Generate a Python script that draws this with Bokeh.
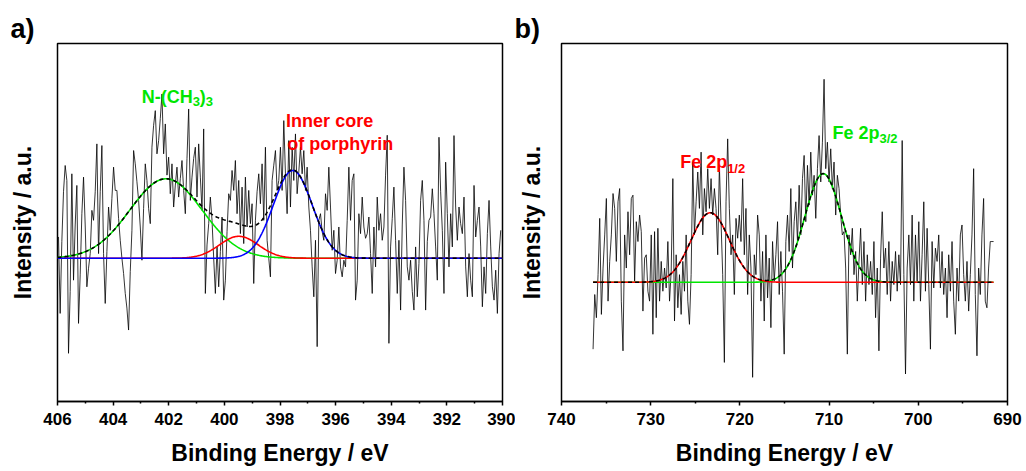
import numpy as np
from bokeh.plotting import figure
from bokeh.models import Range1d, FixedTicker, Label
from bokeh.layouts import row
from bokeh.embed import file_html
from bokeh.resources import INLINE

# ---------------- Panel a) N 1s ----------------
a_energy_first = 405.964   # eV, first sample
a_energy_last = 390.064    # eV, last sample
a_intensity = [
    64, -166, 50, 200, 279, 234, -286, -100, 254, -66,
    100, 219, -196, -50, 134, 244, 100, -86, -30, 14,
    144, 114, 200, 344, 14, 200, 339, 14, -136, 20,
    154, 84, 180, 274, 204, 204, 120, 54, 0, -46,
    -106, -150, -216, -40, 84, 324, 284, 230, 174, 94,
    -6, 150, 284, 234, 150, 104, 334, 400, 444, 314,
    354, 420, 494, 314, 404, 250, 304, 194, 284, 154,
    220, 274, 184, 240, 294, 204, 134, 300, 449, 174,
    244, 300, 334, 184, 344, 244, 144, 389, -106, 40,
    104, 184, 114, 0, -106, 34, -86, 20, 124, -126,
    -66, 80, 194, 174, 264, 204, 294, 134, 234, 74,
    214, 44, 244, 94, 204, 104, 164, -76, 114, 200,
    254, 164, 284, 114, 334, 54, 0, -56, 234, 280,
    324, 204, 234, 334, 204, 414, 254, 134, 354, 154,
    334, 234, 374, 194, 260, 334, 254, 324, 204, 274,
    154, 84, -26, -116, 54, -266, 114, 134, 80, 54,
    194, 144, 274, 154, 24, 84, -46, -6, 94, -26,
    -56, -6, -26, 114, 274, 114, 234, 254, -126, -66,
    134, 74, 184, 94, 60, 74, 124, 14, -106, 94,
    -26, 184, 84, 134, 54, 94, 250, 370, -256, 34,
    120, 214, 54, -106, 54, -156, 100, 274, 174, -26,
    -66, -6, -100, -156, 34, -116, -16, 174, 234, 114,
    -156, 50, 114, 124, 209, 134, 34, -66, 364, 200,
    84, -106, 289, 134, -26, 134, 34, 369, 154, 54,
    154, 104, 74, 184, -26, -116, 14, -66, -116, 219,
    64, 114, 154, 34, -146, -26, -106, 74, 174, 34,
    -86, -126, -36, -166, 14, 84,
]
# fitted components (green, red, blue)
a_peak_centers = [402.10, 399.48, 397.54]
a_peak_heights = [239, 66, 264]
a_peak_sigmas = [1.30, 0.70, 0.70]
a_xrange = [406, 390]
a_yrange = [-431, 646]
a_major_ticks = [406, 404, 402, 400, 398, 396, 394, 392, 390]
a_minor_ticks = [405, 403, 401, 399, 397, 395, 393, 391]

# ---------------- Panel b) Fe 2p ----------------
b_energy_first = 736.46
b_energy_last = 691.56
b_intensity = [
    -202, -37, -107, 23, 193, -97, 43, 143, 253, -57,
    63, 143, 268, 223, 63, 243, 283, -57, -207, 143,
    43, 213, 83, 253, 263, 3, 183, 123, 203, 153,
    -87, 73, 83, -27, -57, 143, -157, 153, -107, 163,
    -57, 63, -27, 43, -17, 123, -57, 33, 313, -117,
    83, -77, 23, -97, 63, -27, 143, -57, -127, 23,
    363, 143, 243, 333, 223, 393, 143, 283, 213, 343,
    223, 313, 203, 283, 223, 83, 353, 183, 23, -242,
    243, 433, 223, 83, 143, -37, 193, 133, 203, 123,
    313, 83, 223, -37, 143, 43, -287, 83, 23, 203,
    143, -57, 93, -117, 143, -47, 73, -137, 123, 3,
    83, 183, -37, 93, -27, -217, 123, 203, 93, 283,
    43, 183, 243, 123, 293, 143, 313, 383, 183, 353,
    233, 393, 263, 323, 193, 343, 443, 303, 423, 613,
    343, 423, 303, 403, 283, 363, 203, 323, 283, 203,
    143, 153, 43, -217, 143, 83, 163, 23, 93, -57,
    63, 163, -7, 123, -57, 83, -7, 63, -37, 123,
    -107, 43, -207, 73, 213, 43, 103, -37, 123, -57,
    63, -7, 93, -27, 83, -7, 428, 23, -277, 43,
    143, -7, 203, -57, 143, 3, 183, -57, 83, 243,
    -27, 163, -7, -202, 123, -17, 103, 63, 143, -17,
    93, -37, 43, -107, 83, -27, 123, -57, -157, 43,
    -57, 143, 173, 23, -57, 63, -87, 23, 143, 343,
    -37, -222, 43, -37, 143, 253, -57, -77, 43, 123,
    123, 123,
]
# fitted components: Fe 2p3/2 (green), Fe 2p1/2 (red)
b_peak_centers = [710.66, 723.32]
b_peak_heights = [328, 210]
b_peak_sigmas = [2.05, 2.15]
b_xrange = [740, 690]
b_yrange = [-360, 721]
b_major_ticks = [740, 730, 720, 710, 700, 690]
b_minor_ticks = [735, 725, 715, 705, 695]

x_title = "Binding Energy / eV"
y_title = "Intensity / a.u."

GREEN = "#00e600"
RED = "#ff0000"
BLUE = "#0000ff"
FONT = "Liberation Sans"


def gauss(x, c, h, s):
    return h * np.exp(-((x - c) ** 2) / (2.0 * s * s))


def make_fig(width, xr, yr, majors, minors, borders, ylab_standoff, panel_tag, tag_offset):
    left, right, top, bottom = borders
    p = figure(width=width, height=471, x_range=Range1d(*xr), y_range=Range1d(*yr),
               output_backend="svg", toolbar_location=None,
               min_border_left=left, min_border_right=right,
               min_border_top=top, min_border_bottom=bottom)
    p.xgrid.visible = False
    p.ygrid.visible = False
    p.outline_line_color = "black"
    p.outline_line_width = 1.5
    p.background_fill_color = "white"
    p.border_fill_color = "white"

    p.title.text = panel_tag
    p.title.align = "left"
    p.title.offset = tag_offset
    p.title.standoff = 0
    p.title.text_font = FONT
    p.title.text_font_style = "bold"
    p.title.text_font_size = "27px"
    p.title.text_color = "black"

    xa = p.xaxis[0]
    xa.ticker = FixedTicker(ticks=majors, minor_ticks=minors)
    xa.major_tick_out = 4
    xa.major_tick_in = 0
    xa.minor_tick_out = 2
    xa.minor_tick_in = 0
    xa.axis_line_width = 1.5
    xa.major_tick_line_width = 1.5
    xa.minor_tick_line_width = 1.5
    xa.major_label_text_font = FONT
    xa.major_label_text_font_style = "bold"
    xa.major_label_text_font_size = "17px"
    xa.major_label_text_color = "black"
    xa.major_label_standoff = 7
    xa.axis_label = x_title
    xa.axis_label_text_font = FONT
    xa.axis_label_text_font_style = "bold"
    xa.axis_label_text_font_size = "23px"
    xa.axis_label_text_color = "black"
    xa.axis_label_standoff = 12

    ya = p.yaxis[0]
    ya.ticker = FixedTicker(ticks=[])
    ya.major_tick_out = 0
    ya.major_tick_in = 0
    ya.minor_tick_out = 0
    ya.minor_tick_in = 0
    ya.axis_line_color = None
    ya.major_label_text_font_size = "0px"
    ya.axis_label = y_title
    ya.axis_label_text_font = FONT
    ya.axis_label_text_font_style = "bold"
    ya.axis_label_text_font_size = "23px"
    ya.axis_label_text_color = "black"
    ya.axis_label_standoff = ylab_standoff
    return p


def add_text(p, x, y, parts, color):
    """parts: list of (text, x_offset_px, y_offset_px, size_px)"""
    for txt, dx, dy, size in parts:
        p.add_layout(Label(x=x, y=y, x_offset=dx, y_offset=dy, text=txt,
                           text_color=color, text_font=FONT, text_font_style="bold",
                           text_font_size=f"{size}px", text_baseline="alphabetic"))


# ---------- panel a ----------
pa = make_fig(515, a_xrange, a_yrange, a_major_ticks, a_minor_ticks, (57, 13, 43, 69), 22, "a)", -47)
xa_e = np.linspace(a_energy_first, a_energy_last, len(a_intensity))
pa.line(xa_e, a_intensity, line_color="black", line_width=0.8)

xs_a = np.linspace(a_xrange[0], a_xrange[1], 600)
comps_a = [gauss(xs_a, c, h, s) for c, h, s in zip(a_peak_centers, a_peak_heights, a_peak_sigmas)]
for comp, col in zip(comps_a, [GREEN, RED, BLUE]):
    pa.line(xs_a, comp, line_color=col, line_width=1.6)
pa.line(xs_a, np.sum(comps_a, axis=0), line_color="black", line_width=1.6, line_dash="4 3")

add_text(pa, 402.97, 484, [("N-(CH", 0, 0, 18), ("3", 51, -4, 13), (")", 58, 0, 18), ("3", 64, -4, 13)], GREEN)
add_text(pa, 397.78, 412, [("Inner core", 0, 0, 18)], RED)
add_text(pa, 397.74, 344, [("of porphyrin", 0, 0, 18)], RED)

# ---------- panel b ----------
pb = make_fig(511, b_xrange, b_yrange, b_major_ticks, b_minor_ticks, (45, 19, 41, 70), 17, "b)", -47)
xb_e = np.linspace(b_energy_first, b_energy_last, len(b_intensity))
pb.line(xb_e, b_intensity, line_color="black", line_width=0.8)

xs_b = np.linspace(b_energy_first, b_energy_last, 600)
comps_b = [gauss(xs_b, c, h, s) for c, h, s in zip(b_peak_centers, b_peak_heights, b_peak_sigmas)]
for comp, col in zip(comps_b, [GREEN, RED]):
    pb.line(xs_b, comp, line_color=col, line_width=1.6)
pb.line(xs_b, np.sum(comps_b, axis=0), line_color="black", line_width=1.6, line_dash="4 3")

add_text(pb, 726.70, 363, [("Fe 2p", 0, 0, 18), ("1/2", 47, -6, 13)], RED)
add_text(pb, 709.63, 451, [("Fe 2p", 0, 0, 18), ("3/2", 47, -6, 13)], GREEN)

layout = row(pa, pb)
open("out.html", "w").write(file_html(layout, INLINE))
